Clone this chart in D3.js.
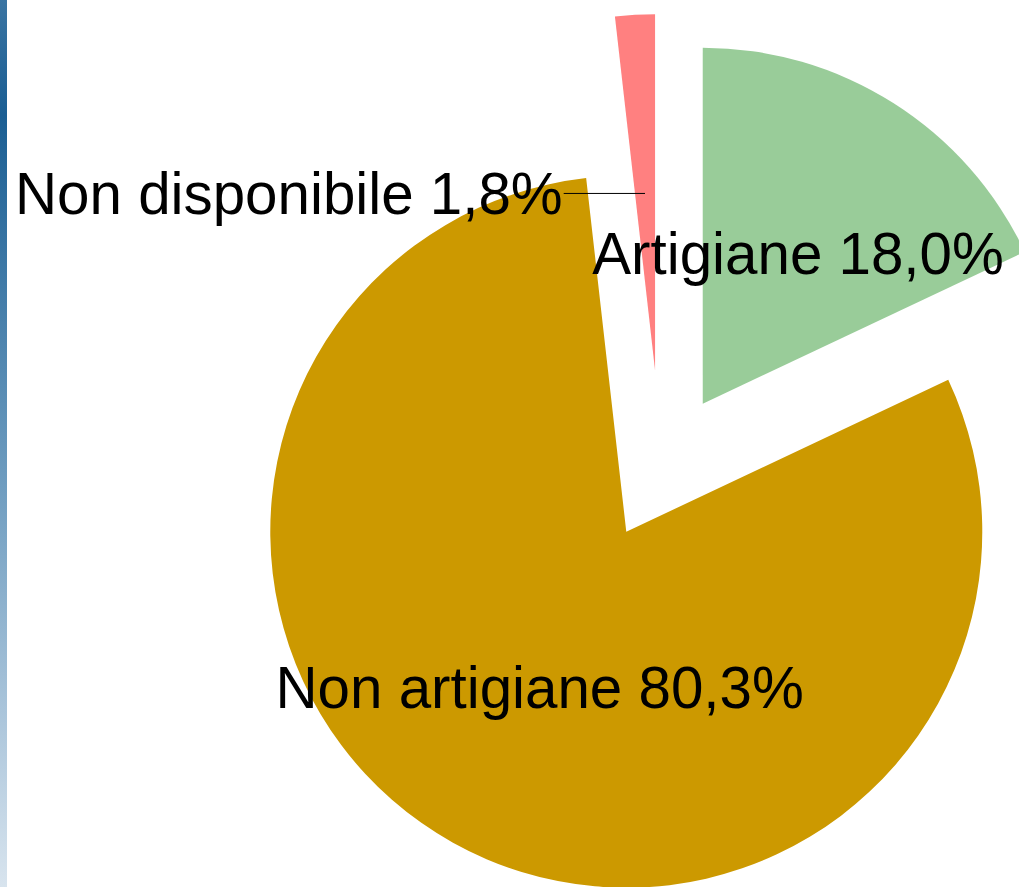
<!DOCTYPE html>
<html>
<head>
<meta charset="utf-8">
<script src="https://cdn.jsdelivr.net/npm/d3@7/dist/d3.min.js"></script>
<style>
  html, body { margin: 0; padding: 0; background: #ffffff; }
  svg { display: block; }
</style>
</head>
<body>
<svg id="chart" width="1019" height="887"></svg>
<script>
// ---- data ----
const categories = ["Artigiane", "Non artigiane", "Non disponibile"];
const values = [18.0, 80.3, 1.8];
const valueLabels = ["18,0%", "80,3%", "1,8%"];
const colors = ["#99cc99", "#cc9900", "#ff8080"];
const explode = [78.5, 70.7, 100];   // offset of each slice from the pie centre (px)

// ---- layout ----
const W = 1019, H = 887;
const cx = 660.7, cy = 470, R = 356;
const fontSize = 58.3;

const svg = d3.select("#chart");

// left decorative gradient bar
const defs = svg.append("defs");
const grad = defs.append("linearGradient").attr("id", "bar").attr("x1", 0).attr("y1", 0).attr("x2", 0).attr("y2", 1);
grad.append("stop").attr("offset", "0%").attr("stop-color", "#3a74a2");
grad.append("stop").attr("offset", "13%").attr("stop-color", "#1a5e93");
grad.append("stop").attr("offset", "55%").attr("stop-color", "#6f9dc0");
grad.append("stop").attr("offset", "80%").attr("stop-color", "#a9c4da");
grad.append("stop").attr("offset", "100%").attr("stop-color", "#d8e4ee");
svg.append("rect").attr("x", 0).attr("y", 0).attr("width", 7).attr("height", H).attr("fill", "url(#bar)");

const data = categories.map((c, i) => ({ cat: c, value: values[i], label: valueLabels[i], color: colors[i], explode: explode[i] }));

const pie = d3.pie().value(d => d.value).sort(null).startAngle(0).endAngle(2 * Math.PI);
const arcs = pie(data);
const arc = d3.arc().innerRadius(0).outerRadius(R);

const g = svg.append("g").attr("transform", `translate(${cx},${cy})`);

function offsetOf(a) {
  const mid = (a.startAngle + a.endAngle) / 2;
  return [Math.sin(mid) * a.data.explode, -Math.cos(mid) * a.data.explode];
}

g.selectAll("path.slice").data(arcs).join("path")
  .attr("class", "slice")
  .attr("d", arc)
  .attr("fill", d => d.data.color)
  .attr("transform", d => { const o = offsetOf(d); return `translate(${o[0]},${o[1]})`; });

// labels
const font = "'Liberation Sans', Arial, sans-serif";
arcs.forEach((a, i) => {
  const o = offsetOf(a);
  const mid = (a.startAngle + a.endAngle) / 2;
  const lr = 178;
  const px = o[0] + Math.sin(mid) * lr;
  const py = o[1] - Math.cos(mid) * lr;
  const text = a.data.cat + " " + a.data.label;
  if (a.endAngle - a.startAngle > 0.3) {
    g.append("text")
      .attr("x", px).attr("y", py + fontSize * 0.36)
      .attr("text-anchor", "middle")
      .attr("font-family", font).attr("font-size", fontSize)
      .attr("fill", "#000").text(text);
  } else {
    // outside label with leader line
    const lx = -97;
    g.append("line")
      .attr("x1", px).attr("y1", py + 1).attr("x2", lx).attr("y2", py + 1)
      .attr("stroke", "#000").attr("stroke-width", 1);
    g.append("text")
      .attr("x", lx - 1).attr("y", py + 1 + fontSize * 0.36)
      .attr("text-anchor", "end")
      .attr("font-family", font).attr("font-size", fontSize)
      .attr("fill", "#000").text(text);
  }
});
</script>
</body>
</html>
